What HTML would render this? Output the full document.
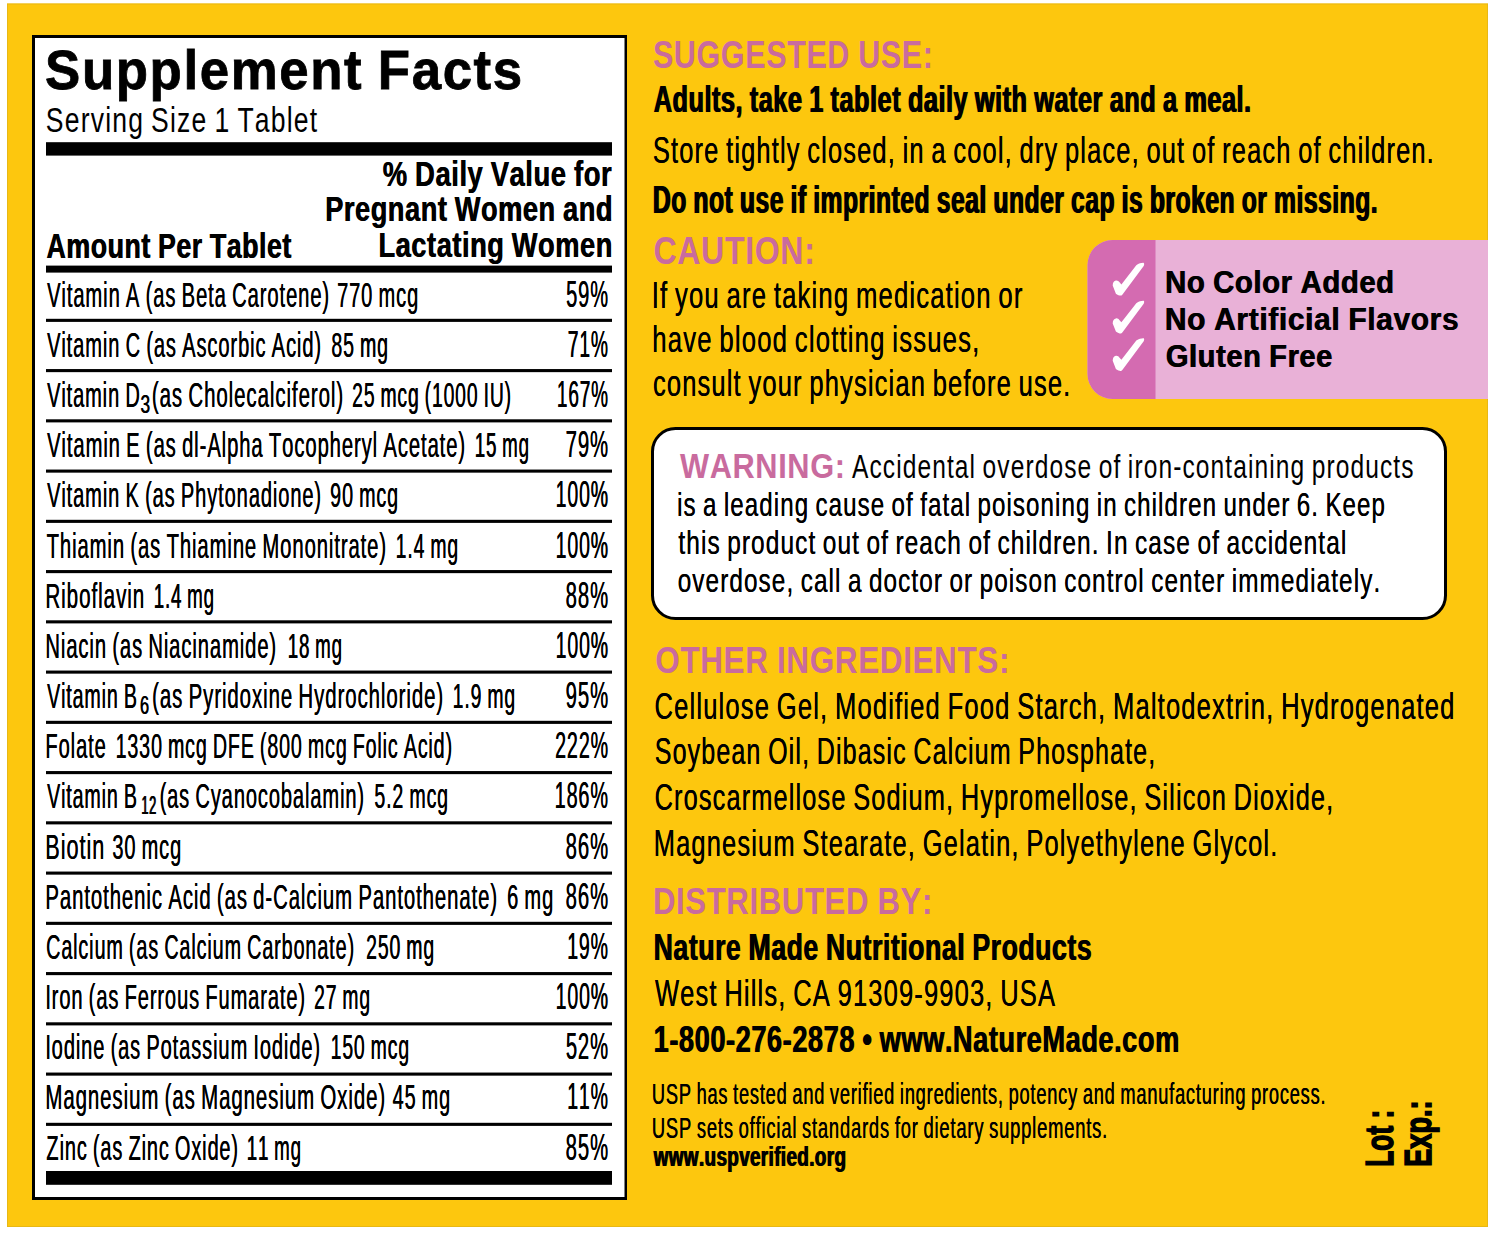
<!DOCTYPE html>
<html><head><meta charset="utf-8"><title>Supplement Facts</title>
<style>
html,body{margin:0;padding:0;background:#fff;}
body{width:1500px;height:1234px;overflow:hidden;}
svg{display:block;}
text{font-family:"Liberation Sans",sans-serif;font-kerning:none;font-variant-ligatures:none;white-space:pre;}
text.R{font-weight:400;}
text.B{font-weight:700;}
</style></head>
<body>
<svg width="1500" height="1234" viewBox="0 0 1500 1234">
<rect x="7" y="3.5" width="1481" height="1223.5" fill="#FDC70E"/>
<rect x="7.5" y="4" width="1480" height="1222.5" fill="none" stroke="#E2B418" stroke-width="1" opacity="0.8"/>
<rect x="32" y="35" width="595" height="1165" fill="#000"/>
<rect x="35" y="38" width="589.5" height="1159" fill="#fff"/>
<text class="B" x="45.08" y="89.40" font-size="56.33" textLength="478.67" lengthAdjust="spacingAndGlyphs" letter-spacing="1.69" word-spacing="-1.69" stroke="#000" stroke-width="0.8">Supplement Facts</text>
<text class="R" x="45.79" y="132.40" font-size="34.80" textLength="272.59" lengthAdjust="spacingAndGlyphs" letter-spacing="1.57" word-spacing="-2.09">Serving Size 1 Tablet</text>
<rect x="46" y="142.2" width="566" height="13.4" fill="#000"/>
<text class="B" x="382.52" y="185.70" font-size="34.46" textLength="229.41" lengthAdjust="spacingAndGlyphs" letter-spacing="0.69" word-spacing="-1.03">% Daily Value for</text>
<text class="B" x="383.05" y="185.70" font-size="34.46" textLength="229.41" lengthAdjust="spacingAndGlyphs" letter-spacing="0.69" word-spacing="-1.03">% Daily Value for</text>
<text class="B" x="324.88" y="221.00" font-size="34.46" textLength="287.89" lengthAdjust="spacingAndGlyphs" letter-spacing="0.69" word-spacing="-1.03">Pregnant Women and</text>
<text class="B" x="325.44" y="221.00" font-size="34.46" textLength="287.89" lengthAdjust="spacingAndGlyphs" letter-spacing="0.69" word-spacing="-1.03">Pregnant Women and</text>
<text class="B" x="378.18" y="256.60" font-size="34.46" textLength="234.50" lengthAdjust="spacingAndGlyphs" letter-spacing="0.69" word-spacing="-1.03">Lactating Women</text>
<text class="B" x="378.73" y="256.60" font-size="34.46" textLength="234.50" lengthAdjust="spacingAndGlyphs" letter-spacing="0.69" word-spacing="-1.03">Lactating Women</text>
<text class="B" x="46.23" y="257.60" font-size="34.74" textLength="245.30" lengthAdjust="spacingAndGlyphs" letter-spacing="0.69" word-spacing="-1.04">Amount Per Tablet</text>
<text class="B" x="46.86" y="257.60" font-size="34.74" textLength="245.30" lengthAdjust="spacingAndGlyphs" letter-spacing="0.69" word-spacing="-1.04">Amount Per Tablet</text>
<rect x="46" y="265.6" width="566" height="7" fill="#000"/>
<text class="R" x="46.91" y="306.60" font-size="35.77" textLength="283.03" lengthAdjust="spacingAndGlyphs" letter-spacing="1.61" word-spacing="-2.15">Vitamin A (as Beta Carotene)</text>
<text class="R" x="47.13" y="306.60" font-size="35.77" textLength="283.03" lengthAdjust="spacingAndGlyphs" letter-spacing="1.61" word-spacing="-2.15">Vitamin A (as Beta Carotene)</text>
<text class="R" x="336.97" y="306.60" font-size="35.77" textLength="81.99" lengthAdjust="spacingAndGlyphs" letter-spacing="1.61" word-spacing="-2.15">770 mcg</text>
<text class="R" x="337.20" y="306.60" font-size="35.77" textLength="81.99" lengthAdjust="spacingAndGlyphs" letter-spacing="1.61" word-spacing="-2.15">770 mcg</text>
<text class="R" x="566.00" y="306.60" font-size="36.43" textLength="42.90" lengthAdjust="spacingAndGlyphs" letter-spacing="1.64">59%</text>
<text class="R" x="566.22" y="306.60" font-size="36.43" textLength="42.90" lengthAdjust="spacingAndGlyphs" letter-spacing="1.64">59%</text>
<rect x="46" y="318.8" width="566" height="3.1" fill="#000"/>
<text class="R" x="46.91" y="356.78" font-size="35.77" textLength="275.01" lengthAdjust="spacingAndGlyphs" letter-spacing="1.61" word-spacing="-2.15">Vitamin C (as Ascorbic Acid)</text>
<text class="R" x="47.14" y="356.78" font-size="35.77" textLength="275.01" lengthAdjust="spacingAndGlyphs" letter-spacing="1.61" word-spacing="-2.15">Vitamin C (as Ascorbic Acid)</text>
<text class="R" x="331.15" y="356.78" font-size="35.77" textLength="57.73" lengthAdjust="spacingAndGlyphs" letter-spacing="1.61" word-spacing="-2.15">85 mg</text>
<text class="R" x="331.41" y="356.78" font-size="35.77" textLength="57.73" lengthAdjust="spacingAndGlyphs" letter-spacing="1.61" word-spacing="-2.15">85 mg</text>
<text class="R" x="567.61" y="356.78" font-size="36.43" textLength="41.15" lengthAdjust="spacingAndGlyphs" letter-spacing="1.64">71%</text>
<text class="R" x="567.90" y="356.78" font-size="36.43" textLength="41.15" lengthAdjust="spacingAndGlyphs" letter-spacing="1.64">71%</text>
<rect x="46" y="369.05" width="566" height="3.1" fill="#000"/>
<text class="R" x="46.91" y="406.96" font-size="35.77" textLength="93.71" lengthAdjust="spacingAndGlyphs" letter-spacing="1.61" word-spacing="-2.15">Vitamin D</text>
<text class="R" x="47.15" y="406.96" font-size="35.77" textLength="93.71" lengthAdjust="spacingAndGlyphs" letter-spacing="1.61" word-spacing="-2.15">Vitamin D</text>
<text class="R" x="140.34" y="412.56" font-size="25.43" textLength="10.39" lengthAdjust="spacingAndGlyphs" letter-spacing="1.14">3</text>
<text class="R" x="140.75" y="412.56" font-size="25.43" textLength="10.39" lengthAdjust="spacingAndGlyphs" letter-spacing="1.14">3</text>
<text class="R" x="151.73" y="406.96" font-size="35.77" textLength="192.26" lengthAdjust="spacingAndGlyphs" letter-spacing="1.61" word-spacing="-2.15">(as Cholecalciferol)</text>
<text class="R" x="151.93" y="406.96" font-size="35.77" textLength="192.26" lengthAdjust="spacingAndGlyphs" letter-spacing="1.61" word-spacing="-2.15">(as Cholecalciferol)</text>
<text class="R" x="352.03" y="406.96" font-size="35.77" textLength="159.74" lengthAdjust="spacingAndGlyphs" letter-spacing="1.61" word-spacing="-2.15">25 mcg (1000 IU)</text>
<text class="R" x="352.32" y="406.96" font-size="35.77" textLength="159.74" lengthAdjust="spacingAndGlyphs" letter-spacing="1.61" word-spacing="-2.15">25 mcg (1000 IU)</text>
<text class="R" x="556.75" y="406.96" font-size="36.43" textLength="51.96" lengthAdjust="spacingAndGlyphs" letter-spacing="1.64">167%</text>
<text class="R" x="557.07" y="406.96" font-size="36.43" textLength="51.96" lengthAdjust="spacingAndGlyphs" letter-spacing="1.64">167%</text>
<rect x="46" y="419.3" width="566" height="3.1" fill="#000"/>
<text class="R" x="46.91" y="457.14" font-size="35.77" textLength="419.04" lengthAdjust="spacingAndGlyphs" letter-spacing="1.61" word-spacing="-2.15">Vitamin E (as dl-Alpha Tocopheryl Acetate)</text>
<text class="R" x="47.13" y="457.14" font-size="35.77" textLength="419.04" lengthAdjust="spacingAndGlyphs" letter-spacing="1.61" word-spacing="-2.15">Vitamin E (as dl-Alpha Tocopheryl Acetate)</text>
<text class="R" x="474.57" y="457.14" font-size="35.77" textLength="55.13" lengthAdjust="spacingAndGlyphs" letter-spacing="1.61" word-spacing="-2.15">15 mg</text>
<text class="R" x="474.91" y="457.14" font-size="35.77" textLength="55.13" lengthAdjust="spacingAndGlyphs" letter-spacing="1.61" word-spacing="-2.15">15 mg</text>
<text class="R" x="565.46" y="457.14" font-size="36.43" textLength="43.48" lengthAdjust="spacingAndGlyphs" letter-spacing="1.64">79%</text>
<text class="R" x="565.66" y="457.14" font-size="36.43" textLength="43.48" lengthAdjust="spacingAndGlyphs" letter-spacing="1.64">79%</text>
<rect x="46" y="469.55" width="566" height="3.1" fill="#000"/>
<text class="R" x="46.91" y="507.32" font-size="35.77" textLength="275.00" lengthAdjust="spacingAndGlyphs" letter-spacing="1.61" word-spacing="-2.15">Vitamin K (as Phytonadione)</text>
<text class="R" x="47.14" y="507.32" font-size="35.77" textLength="275.00" lengthAdjust="spacingAndGlyphs" letter-spacing="1.61" word-spacing="-2.15">Vitamin K (as Phytonadione)</text>
<text class="R" x="330.08" y="507.32" font-size="35.77" textLength="68.83" lengthAdjust="spacingAndGlyphs" letter-spacing="1.61" word-spacing="-2.15">90 mcg</text>
<text class="R" x="330.33" y="507.32" font-size="35.77" textLength="68.83" lengthAdjust="spacingAndGlyphs" letter-spacing="1.61" word-spacing="-2.15">90 mcg</text>
<text class="R" x="555.52" y="507.32" font-size="36.43" textLength="53.27" lengthAdjust="spacingAndGlyphs" letter-spacing="1.64">100%</text>
<text class="R" x="555.80" y="507.32" font-size="36.43" textLength="53.27" lengthAdjust="spacingAndGlyphs" letter-spacing="1.64">100%</text>
<rect x="46" y="519.8" width="566" height="3.1" fill="#000"/>
<text class="R" x="46.55" y="557.50" font-size="35.77" textLength="340.40" lengthAdjust="spacingAndGlyphs" letter-spacing="1.61" word-spacing="-2.15">Thiamin (as Thiamine Mononitrate)</text>
<text class="R" x="46.76" y="557.50" font-size="35.77" textLength="340.40" lengthAdjust="spacingAndGlyphs" letter-spacing="1.61" word-spacing="-2.15">Thiamin (as Thiamine Mononitrate)</text>
<text class="R" x="395.52" y="557.50" font-size="35.77" textLength="63.31" lengthAdjust="spacingAndGlyphs" letter-spacing="1.61" word-spacing="-2.15">1.4 mg</text>
<text class="R" x="395.81" y="557.50" font-size="35.77" textLength="63.31" lengthAdjust="spacingAndGlyphs" letter-spacing="1.61" word-spacing="-2.15">1.4 mg</text>
<text class="R" x="555.52" y="557.50" font-size="36.43" textLength="53.27" lengthAdjust="spacingAndGlyphs" letter-spacing="1.64">100%</text>
<text class="R" x="555.80" y="557.50" font-size="36.43" textLength="53.27" lengthAdjust="spacingAndGlyphs" letter-spacing="1.64">100%</text>
<rect x="46" y="570.05" width="566" height="3.1" fill="#000"/>
<text class="R" x="45.31" y="607.68" font-size="35.77" textLength="99.77" lengthAdjust="spacingAndGlyphs" letter-spacing="1.61">Riboflavin</text>
<text class="R" x="45.49" y="607.68" font-size="35.77" textLength="99.77" lengthAdjust="spacingAndGlyphs" letter-spacing="1.61">Riboflavin</text>
<text class="R" x="153.57" y="607.68" font-size="35.77" textLength="61.13" lengthAdjust="spacingAndGlyphs" letter-spacing="1.61" word-spacing="-2.15">1.4 mg</text>
<text class="R" x="153.92" y="607.68" font-size="35.77" textLength="61.13" lengthAdjust="spacingAndGlyphs" letter-spacing="1.61" word-spacing="-2.15">1.4 mg</text>
<text class="R" x="565.62" y="607.68" font-size="36.43" textLength="43.31" lengthAdjust="spacingAndGlyphs" letter-spacing="1.64">88%</text>
<text class="R" x="565.83" y="607.68" font-size="36.43" textLength="43.31" lengthAdjust="spacingAndGlyphs" letter-spacing="1.64">88%</text>
<rect x="46" y="620.3" width="566" height="3.1" fill="#000"/>
<text class="R" x="45.34" y="657.86" font-size="35.77" textLength="231.59" lengthAdjust="spacingAndGlyphs" letter-spacing="1.61" word-spacing="-2.15">Niacin (as Niacinamide)</text>
<text class="R" x="45.57" y="657.86" font-size="35.77" textLength="231.59" lengthAdjust="spacingAndGlyphs" letter-spacing="1.61" word-spacing="-2.15">Niacin (as Niacinamide)</text>
<text class="R" x="287.57" y="657.86" font-size="35.77" textLength="55.13" lengthAdjust="spacingAndGlyphs" letter-spacing="1.61" word-spacing="-2.15">18 mg</text>
<text class="R" x="287.91" y="657.86" font-size="35.77" textLength="55.13" lengthAdjust="spacingAndGlyphs" letter-spacing="1.61" word-spacing="-2.15">18 mg</text>
<text class="R" x="555.52" y="657.86" font-size="36.43" textLength="53.27" lengthAdjust="spacingAndGlyphs" letter-spacing="1.64">100%</text>
<text class="R" x="555.80" y="657.86" font-size="36.43" textLength="53.27" lengthAdjust="spacingAndGlyphs" letter-spacing="1.64">100%</text>
<rect x="46" y="670.55" width="566" height="3.1" fill="#000"/>
<text class="R" x="46.91" y="708.04" font-size="35.77" textLength="90.74" lengthAdjust="spacingAndGlyphs" letter-spacing="1.61" word-spacing="-2.15">Vitamin B</text>
<text class="R" x="47.18" y="708.04" font-size="35.77" textLength="90.74" lengthAdjust="spacingAndGlyphs" letter-spacing="1.61" word-spacing="-2.15">Vitamin B</text>
<text class="R" x="139.87" y="713.64" font-size="25.43" textLength="9.80" lengthAdjust="spacingAndGlyphs" letter-spacing="1.14">6</text>
<text class="R" x="140.35" y="713.64" font-size="25.43" textLength="9.80" lengthAdjust="spacingAndGlyphs" letter-spacing="1.14">6</text>
<text class="R" x="152.03" y="708.04" font-size="35.77" textLength="291.95" lengthAdjust="spacingAndGlyphs" letter-spacing="1.61" word-spacing="-2.15">(as Pyridoxine Hydrochloride)</text>
<text class="R" x="152.24" y="708.04" font-size="35.77" textLength="291.95" lengthAdjust="spacingAndGlyphs" letter-spacing="1.61" word-spacing="-2.15">(as Pyridoxine Hydrochloride)</text>
<text class="R" x="452.52" y="708.04" font-size="35.77" textLength="63.31" lengthAdjust="spacingAndGlyphs" letter-spacing="1.61" word-spacing="-2.15">1.9 mg</text>
<text class="R" x="452.81" y="708.04" font-size="35.77" textLength="63.31" lengthAdjust="spacingAndGlyphs" letter-spacing="1.61" word-spacing="-2.15">1.9 mg</text>
<text class="R" x="565.55" y="708.04" font-size="36.43" textLength="43.39" lengthAdjust="spacingAndGlyphs" letter-spacing="1.64">95%</text>
<text class="R" x="565.75" y="708.04" font-size="36.43" textLength="43.39" lengthAdjust="spacingAndGlyphs" letter-spacing="1.64">95%</text>
<rect x="46" y="720.8" width="566" height="3.1" fill="#000"/>
<text class="R" x="45.35" y="758.22" font-size="35.77" textLength="61.22" lengthAdjust="spacingAndGlyphs" letter-spacing="1.61">Folate</text>
<text class="R" x="45.58" y="758.22" font-size="35.77" textLength="61.22" lengthAdjust="spacingAndGlyphs" letter-spacing="1.61">Folate</text>
<text class="R" x="115.50" y="758.22" font-size="35.77" textLength="337.32" lengthAdjust="spacingAndGlyphs" letter-spacing="1.61" word-spacing="-2.15">1330 mcg DFE (800 mcg Folic Acid)</text>
<text class="R" x="115.78" y="758.22" font-size="35.77" textLength="337.32" lengthAdjust="spacingAndGlyphs" letter-spacing="1.61" word-spacing="-2.15">1330 mcg DFE (800 mcg Folic Acid)</text>
<text class="R" x="555.01" y="758.22" font-size="36.43" textLength="53.81" lengthAdjust="spacingAndGlyphs" letter-spacing="1.64">222%</text>
<text class="R" x="555.27" y="758.22" font-size="36.43" textLength="53.81" lengthAdjust="spacingAndGlyphs" letter-spacing="1.64">222%</text>
<rect x="46" y="771.05" width="566" height="3.1" fill="#000"/>
<text class="R" x="46.91" y="808.40" font-size="35.77" textLength="90.74" lengthAdjust="spacingAndGlyphs" letter-spacing="1.61" word-spacing="-2.15">Vitamin B</text>
<text class="R" x="47.18" y="808.40" font-size="35.77" textLength="90.74" lengthAdjust="spacingAndGlyphs" letter-spacing="1.61" word-spacing="-2.15">Vitamin B</text>
<text class="R" x="141.02" y="814.00" font-size="25.43" textLength="15.39" lengthAdjust="spacingAndGlyphs" letter-spacing="1.14">12</text>
<text class="R" x="141.83" y="814.00" font-size="25.43" textLength="15.39" lengthAdjust="spacingAndGlyphs" letter-spacing="1.14">12</text>
<text class="R" x="159.46" y="808.40" font-size="35.77" textLength="205.46" lengthAdjust="spacingAndGlyphs" letter-spacing="1.61" word-spacing="-2.15">(as Cyanocobalamin)</text>
<text class="R" x="159.69" y="808.40" font-size="35.77" textLength="205.46" lengthAdjust="spacingAndGlyphs" letter-spacing="1.61" word-spacing="-2.15">(as Cyanocobalamin)</text>
<text class="R" x="374.22" y="808.40" font-size="35.77" textLength="74.66" lengthAdjust="spacingAndGlyphs" letter-spacing="1.61" word-spacing="-2.15">5.2 mcg</text>
<text class="R" x="374.49" y="808.40" font-size="35.77" textLength="74.66" lengthAdjust="spacingAndGlyphs" letter-spacing="1.61" word-spacing="-2.15">5.2 mcg</text>
<text class="R" x="554.49" y="808.40" font-size="36.43" textLength="54.37" lengthAdjust="spacingAndGlyphs" letter-spacing="1.64">186%</text>
<text class="R" x="554.73" y="808.40" font-size="36.43" textLength="54.37" lengthAdjust="spacingAndGlyphs" letter-spacing="1.64">186%</text>
<rect x="46" y="821.3" width="566" height="3.1" fill="#000"/>
<text class="R" x="45.22" y="858.58" font-size="35.77" textLength="60.07" lengthAdjust="spacingAndGlyphs" letter-spacing="1.61">Biotin</text>
<text class="R" x="45.31" y="858.58" font-size="35.77" textLength="60.07" lengthAdjust="spacingAndGlyphs" letter-spacing="1.61">Biotin</text>
<text class="R" x="112.24" y="858.58" font-size="35.77" textLength="69.71" lengthAdjust="spacingAndGlyphs" letter-spacing="1.61" word-spacing="-2.15">30 mcg</text>
<text class="R" x="112.47" y="858.58" font-size="35.77" textLength="69.71" lengthAdjust="spacingAndGlyphs" letter-spacing="1.61" word-spacing="-2.15">30 mcg</text>
<text class="R" x="565.62" y="858.58" font-size="36.43" textLength="43.31" lengthAdjust="spacingAndGlyphs" letter-spacing="1.64">86%</text>
<text class="R" x="565.83" y="858.58" font-size="36.43" textLength="43.31" lengthAdjust="spacingAndGlyphs" letter-spacing="1.64">86%</text>
<rect x="46" y="871.55" width="566" height="3.1" fill="#000"/>
<text class="R" x="45.33" y="908.76" font-size="35.77" textLength="452.64" lengthAdjust="spacingAndGlyphs" letter-spacing="1.61" word-spacing="-2.15">Pantothenic Acid (as d-Calcium Pantothenate)</text>
<text class="R" x="45.54" y="908.76" font-size="35.77" textLength="452.64" lengthAdjust="spacingAndGlyphs" letter-spacing="1.61" word-spacing="-2.15">Pantothenic Acid (as d-Calcium Pantothenate)</text>
<text class="R" x="506.98" y="908.76" font-size="35.77" textLength="46.99" lengthAdjust="spacingAndGlyphs" letter-spacing="1.61" word-spacing="-2.15">6 mg</text>
<text class="R" x="507.21" y="908.76" font-size="35.77" textLength="46.99" lengthAdjust="spacingAndGlyphs" letter-spacing="1.61" word-spacing="-2.15">6 mg</text>
<text class="R" x="565.62" y="908.76" font-size="36.43" textLength="43.31" lengthAdjust="spacingAndGlyphs" letter-spacing="1.64">86%</text>
<text class="R" x="565.83" y="908.76" font-size="36.43" textLength="43.31" lengthAdjust="spacingAndGlyphs" letter-spacing="1.64">86%</text>
<rect x="46" y="921.8" width="566" height="3.1" fill="#000"/>
<text class="R" x="46.00" y="958.94" font-size="35.77" textLength="308.86" lengthAdjust="spacingAndGlyphs" letter-spacing="1.61" word-spacing="-2.15">Calcium (as Calcium Carbonate)</text>
<text class="R" x="46.25" y="958.94" font-size="35.77" textLength="308.86" lengthAdjust="spacingAndGlyphs" letter-spacing="1.61" word-spacing="-2.15">Calcium (as Calcium Carbonate)</text>
<text class="R" x="366.02" y="958.94" font-size="35.77" textLength="68.82" lengthAdjust="spacingAndGlyphs" letter-spacing="1.61" word-spacing="-2.15">250 mg</text>
<text class="R" x="366.31" y="958.94" font-size="35.77" textLength="68.82" lengthAdjust="spacingAndGlyphs" letter-spacing="1.61" word-spacing="-2.15">250 mg</text>
<text class="R" x="567.11" y="958.94" font-size="36.43" textLength="41.69" lengthAdjust="spacingAndGlyphs" letter-spacing="1.64">19%</text>
<text class="R" x="567.38" y="958.94" font-size="36.43" textLength="41.69" lengthAdjust="spacingAndGlyphs" letter-spacing="1.64">19%</text>
<rect x="46" y="972.05" width="566" height="3.1" fill="#000"/>
<text class="R" x="45.15" y="1009.12" font-size="35.77" textLength="260.77" lengthAdjust="spacingAndGlyphs" letter-spacing="1.61" word-spacing="-2.15">Iron (as Ferrous Fumarate)</text>
<text class="R" x="45.38" y="1009.12" font-size="35.77" textLength="260.77" lengthAdjust="spacingAndGlyphs" letter-spacing="1.61" word-spacing="-2.15">Iron (as Ferrous Fumarate)</text>
<text class="R" x="314.03" y="1009.12" font-size="35.77" textLength="56.79" lengthAdjust="spacingAndGlyphs" letter-spacing="1.61" word-spacing="-2.15">27 mg</text>
<text class="R" x="314.32" y="1009.12" font-size="35.77" textLength="56.79" lengthAdjust="spacingAndGlyphs" letter-spacing="1.61" word-spacing="-2.15">27 mg</text>
<text class="R" x="555.52" y="1009.12" font-size="36.43" textLength="53.27" lengthAdjust="spacingAndGlyphs" letter-spacing="1.64">100%</text>
<text class="R" x="555.80" y="1009.12" font-size="36.43" textLength="53.27" lengthAdjust="spacingAndGlyphs" letter-spacing="1.64">100%</text>
<rect x="46" y="1022.3" width="566" height="3.1" fill="#000"/>
<text class="R" x="45.15" y="1059.30" font-size="35.77" textLength="275.76" lengthAdjust="spacingAndGlyphs" letter-spacing="1.61" word-spacing="-2.15">Iodine (as Potassium Iodide)</text>
<text class="R" x="45.38" y="1059.30" font-size="35.77" textLength="275.76" lengthAdjust="spacingAndGlyphs" letter-spacing="1.61" word-spacing="-2.15">Iodine (as Potassium Iodide)</text>
<text class="R" x="330.52" y="1059.30" font-size="35.77" textLength="79.31" lengthAdjust="spacingAndGlyphs" letter-spacing="1.61" word-spacing="-2.15">150 mcg</text>
<text class="R" x="330.81" y="1059.30" font-size="35.77" textLength="79.31" lengthAdjust="spacingAndGlyphs" letter-spacing="1.61" word-spacing="-2.15">150 mcg</text>
<text class="R" x="565.69" y="1059.30" font-size="36.43" textLength="43.23" lengthAdjust="spacingAndGlyphs" letter-spacing="1.64">52%</text>
<text class="R" x="565.90" y="1059.30" font-size="36.43" textLength="43.23" lengthAdjust="spacingAndGlyphs" letter-spacing="1.64">52%</text>
<rect x="46" y="1072.55" width="566" height="3.1" fill="#000"/>
<text class="R" x="45.32" y="1109.48" font-size="35.77" textLength="340.66" lengthAdjust="spacingAndGlyphs" letter-spacing="1.61" word-spacing="-2.15">Magnesium (as Magnesium Oxide)</text>
<text class="R" x="45.53" y="1109.48" font-size="35.77" textLength="340.66" lengthAdjust="spacingAndGlyphs" letter-spacing="1.61" word-spacing="-2.15">Magnesium (as Magnesium Oxide)</text>
<text class="R" x="392.54" y="1109.48" font-size="35.77" textLength="58.38" lengthAdjust="spacingAndGlyphs" letter-spacing="1.61" word-spacing="-2.15">45 mg</text>
<text class="R" x="392.79" y="1109.48" font-size="35.77" textLength="58.38" lengthAdjust="spacingAndGlyphs" letter-spacing="1.61" word-spacing="-2.15">45 mg</text>
<text class="R" x="567.11" y="1109.48" font-size="36.43" textLength="41.69" lengthAdjust="spacingAndGlyphs" letter-spacing="1.64">11%</text>
<text class="R" x="567.38" y="1109.48" font-size="36.43" textLength="41.69" lengthAdjust="spacingAndGlyphs" letter-spacing="1.64">11%</text>
<rect x="46" y="1122.8" width="566" height="3.1" fill="#000"/>
<text class="R" x="46.37" y="1159.66" font-size="35.77" textLength="192.52" lengthAdjust="spacingAndGlyphs" letter-spacing="1.61" word-spacing="-2.15">Zinc (as Zinc Oxide)</text>
<text class="R" x="46.61" y="1159.66" font-size="35.77" textLength="192.52" lengthAdjust="spacingAndGlyphs" letter-spacing="1.61" word-spacing="-2.15">Zinc (as Zinc Oxide)</text>
<text class="R" x="246.57" y="1159.66" font-size="35.77" textLength="55.13" lengthAdjust="spacingAndGlyphs" letter-spacing="1.61" word-spacing="-2.15">11 mg</text>
<text class="R" x="246.91" y="1159.66" font-size="35.77" textLength="55.13" lengthAdjust="spacingAndGlyphs" letter-spacing="1.61" word-spacing="-2.15">11 mg</text>
<text class="R" x="565.62" y="1159.66" font-size="36.43" textLength="43.31" lengthAdjust="spacingAndGlyphs" letter-spacing="1.64">85%</text>
<text class="R" x="565.83" y="1159.66" font-size="36.43" textLength="43.31" lengthAdjust="spacingAndGlyphs" letter-spacing="1.64">85%</text>
<rect x="46" y="1171" width="566" height="13.8" fill="#000"/>
<text class="B" x="652.92" y="68.40" font-size="38.95" textLength="280.62" lengthAdjust="spacingAndGlyphs" fill="#C96B9E" letter-spacing="0.78" word-spacing="-1.17">SUGGESTED USE:</text>
<text class="B" x="653.17" y="112.40" font-size="36.90" textLength="597.95" lengthAdjust="spacingAndGlyphs" letter-spacing="0.74" word-spacing="-1.11">Adults, take 1 tablet daily with water and a meal.</text>
<text class="B" x="654.20" y="112.40" font-size="36.90" textLength="597.95" lengthAdjust="spacingAndGlyphs" letter-spacing="0.74" word-spacing="-1.11">Adults, take 1 tablet daily with water and a meal.</text>
<text class="R" x="652.84" y="162.80" font-size="36.67" textLength="782.01" lengthAdjust="spacingAndGlyphs" letter-spacing="1.65" word-spacing="-2.20">Store tightly closed, in a cool, dry place, out of reach of children.</text>
<text class="R" x="652.96" y="162.80" font-size="36.67" textLength="782.01" lengthAdjust="spacingAndGlyphs" letter-spacing="1.65" word-spacing="-2.20">Store tightly closed, in a cool, dry place, out of reach of children.</text>
<text class="B" x="652.35" y="213.40" font-size="37.91" textLength="725.23" lengthAdjust="spacingAndGlyphs" letter-spacing="0.76" word-spacing="-1.14">Do not use if imprinted seal under cap is broken or missing.</text>
<text class="B" x="653.46" y="213.40" font-size="37.91" textLength="725.23" lengthAdjust="spacingAndGlyphs" letter-spacing="0.76" word-spacing="-1.14">Do not use if imprinted seal under cap is broken or missing.</text>
<text class="B" x="653.38" y="264.00" font-size="38.37" textLength="162.15" lengthAdjust="spacingAndGlyphs" fill="#C96B9E" letter-spacing="0.77">CAUTION:</text>
<text class="R" x="651.63" y="307.80" font-size="37.19" textLength="371.86" lengthAdjust="spacingAndGlyphs" letter-spacing="1.67" word-spacing="-2.23">If you are taking medication or</text>
<text class="R" x="651.72" y="307.80" font-size="37.19" textLength="371.86" lengthAdjust="spacingAndGlyphs" letter-spacing="1.67" word-spacing="-2.23">If you are taking medication or</text>
<text class="R" x="652.22" y="352.20" font-size="37.19" textLength="328.16" lengthAdjust="spacingAndGlyphs" letter-spacing="1.67" word-spacing="-2.23">have blood clotting issues,</text>
<text class="R" x="652.30" y="352.20" font-size="37.19" textLength="328.16" lengthAdjust="spacingAndGlyphs" letter-spacing="1.67" word-spacing="-2.23">have blood clotting issues,</text>
<text class="R" x="652.92" y="396.00" font-size="37.47" textLength="418.45" lengthAdjust="spacingAndGlyphs" letter-spacing="1.69" word-spacing="-2.25">consult your physician before use.</text>
<text class="R" x="653.02" y="396.00" font-size="37.47" textLength="418.45" lengthAdjust="spacingAndGlyphs" letter-spacing="1.69" word-spacing="-2.25">consult your physician before use.</text>
<path d="M1112.5,240 H1488 V399 H1112.5 A25,25 0 0 1 1087.5,374 V265 A25,25 0 0 1 1112.5,240 Z" fill="#E9B1D7"/>
<path d="M1112.5,240 H1155.5 V399 H1112.5 A25,25 0 0 1 1087.5,374 V265 A25,25 0 0 1 1112.5,240 Z" fill="#D46BB1"/>
<path transform="translate(1112.5,262.5)" d="M0.2,23 C0.2,20 1.5,18.2 3.4,18 C5,17.8 6.2,18.6 6.8,19.6 L8.9,21.9 L23.8,2.8 C26.5,0.9 29.5,0.2 31.2,0.4 C31.9,0.6 31.8,2.2 31.2,3.4 L10,31.9 C9.3,33 8,33.3 7.1,33 C5.5,32.7 4.3,32 3.4,31.2 Z" fill="#fff"/>
<path transform="translate(1112.5,300.4)" d="M0.2,23 C0.2,20 1.5,18.2 3.4,18 C5,17.8 6.2,18.6 6.8,19.6 L8.9,21.9 L23.8,2.8 C26.5,0.9 29.5,0.2 31.2,0.4 C31.9,0.6 31.8,2.2 31.2,3.4 L10,31.9 C9.3,33 8,33.3 7.1,33 C5.5,32.7 4.3,32 3.4,31.2 Z" fill="#fff"/>
<path transform="translate(1112.5,337.8)" d="M0.2,23 C0.2,20 1.5,18.2 3.4,18 C5,17.8 6.2,18.6 6.8,19.6 L8.9,21.9 L23.8,2.8 C26.5,0.9 29.5,0.2 31.2,0.4 C31.9,0.6 31.8,2.2 31.2,3.4 L10,31.9 C9.3,33 8,33.3 7.1,33 C5.5,32.7 4.3,32 3.4,31.2 Z" fill="#fff"/>
<text class="B" x="1164.64" y="292.70" font-size="31.36" textLength="229.72" lengthAdjust="spacingAndGlyphs" letter-spacing="0.63" word-spacing="-0.94">No Color Added</text>
<text class="B" x="1165.40" y="292.70" font-size="31.36" textLength="229.72" lengthAdjust="spacingAndGlyphs" letter-spacing="0.63" word-spacing="-0.94">No Color Added</text>
<text class="B" x="1164.59" y="330.20" font-size="31.36" textLength="294.36" lengthAdjust="spacingAndGlyphs" letter-spacing="0.63" word-spacing="-0.94">No Artificial Flavors</text>
<text class="B" x="1165.27" y="330.20" font-size="31.36" textLength="294.36" lengthAdjust="spacingAndGlyphs" letter-spacing="0.63" word-spacing="-0.94">No Artificial Flavors</text>
<text class="B" x="1165.41" y="367.20" font-size="31.36" textLength="167.17" lengthAdjust="spacingAndGlyphs" letter-spacing="0.63" word-spacing="-0.94">Gluten Free</text>
<text class="B" x="1166.20" y="367.20" font-size="31.36" textLength="167.17" lengthAdjust="spacingAndGlyphs" letter-spacing="0.63" word-spacing="-0.94">Gluten Free</text>
<rect x="652.5" y="428.5" width="793" height="190" rx="23" ry="23" fill="#fff" stroke="#000" stroke-width="3"/>
<text class="B" x="679.97" y="478.20" font-size="34.30" textLength="165.61" lengthAdjust="spacingAndGlyphs" fill="#C96B9E" letter-spacing="0.69">WARNING:</text>
<text class="R" x="851.95" y="478.20" font-size="33.77" textLength="562.64" lengthAdjust="spacingAndGlyphs" letter-spacing="1.52" word-spacing="-2.03">Accidental overdose of iron-containing products</text>
<text class="R" x="677.09" y="516.20" font-size="33.77" textLength="708.93" lengthAdjust="spacingAndGlyphs" letter-spacing="1.52" word-spacing="-2.03">is a leading cause of fatal poisoning in children under 6. Keep</text>
<text class="R" x="677.17" y="516.20" font-size="33.77" textLength="708.93" lengthAdjust="spacingAndGlyphs" letter-spacing="1.52" word-spacing="-2.03">is a leading cause of fatal poisoning in children under 6. Keep</text>
<text class="R" x="678.33" y="554.20" font-size="33.77" textLength="669.05" lengthAdjust="spacingAndGlyphs" letter-spacing="1.52" word-spacing="-2.03">this product out of reach of children. In case of accidental</text>
<text class="R" x="678.38" y="554.20" font-size="33.77" textLength="669.05" lengthAdjust="spacingAndGlyphs" letter-spacing="1.52" word-spacing="-2.03">this product out of reach of children. In case of accidental</text>
<text class="R" x="677.68" y="592.20" font-size="33.77" textLength="703.57" lengthAdjust="spacingAndGlyphs" letter-spacing="1.52" word-spacing="-2.03">overdose, call a doctor or poison control center immediately.</text>
<text class="R" x="677.74" y="592.20" font-size="33.77" textLength="703.57" lengthAdjust="spacingAndGlyphs" letter-spacing="1.52" word-spacing="-2.03">overdose, call a doctor or poison control center immediately.</text>
<text class="B" x="655.31" y="672.80" font-size="37.21" textLength="354.75" lengthAdjust="spacingAndGlyphs" fill="#C96B9E" letter-spacing="0.74" word-spacing="-1.12">OTHER INGREDIENTS:</text>
<text class="R" x="654.50" y="718.80" font-size="37.14" textLength="801.00" lengthAdjust="spacingAndGlyphs" letter-spacing="1.67" word-spacing="-2.23">Cellulose Gel, Modified Food Starch, Maltodextrin, Hydrogenated</text>
<text class="R" x="654.60" y="718.80" font-size="37.14" textLength="801.00" lengthAdjust="spacingAndGlyphs" letter-spacing="1.67" word-spacing="-2.23">Cellulose Gel, Modified Food Starch, Maltodextrin, Hydrogenated</text>
<text class="R" x="654.66" y="764.40" font-size="37.14" textLength="501.57" lengthAdjust="spacingAndGlyphs" letter-spacing="1.67" word-spacing="-2.23">Soybean Oil, Dibasic Calcium Phosphate,</text>
<text class="R" x="654.81" y="764.40" font-size="37.14" textLength="501.57" lengthAdjust="spacingAndGlyphs" letter-spacing="1.67" word-spacing="-2.23">Soybean Oil, Dibasic Calcium Phosphate,</text>
<text class="R" x="654.51" y="810.40" font-size="37.14" textLength="679.79" lengthAdjust="spacingAndGlyphs" letter-spacing="1.67" word-spacing="-2.23">Croscarmellose Sodium, Hypromellose, Silicon Dioxide,</text>
<text class="R" x="654.63" y="810.40" font-size="37.14" textLength="679.79" lengthAdjust="spacingAndGlyphs" letter-spacing="1.67" word-spacing="-2.23">Croscarmellose Sodium, Hypromellose, Silicon Dioxide,</text>
<text class="R" x="653.71" y="856.40" font-size="37.14" textLength="624.65" lengthAdjust="spacingAndGlyphs" letter-spacing="1.67" word-spacing="-2.23">Magnesium Stearate, Gelatin, Polyethylene Glycol.</text>
<text class="R" x="653.82" y="856.40" font-size="37.14" textLength="624.65" lengthAdjust="spacingAndGlyphs" letter-spacing="1.67" word-spacing="-2.23">Magnesium Stearate, Gelatin, Polyethylene Glycol.</text>
<text class="B" x="652.92" y="914.00" font-size="37.21" textLength="280.00" lengthAdjust="spacingAndGlyphs" fill="#C96B9E" letter-spacing="0.74" word-spacing="-1.12">DISTRIBUTED BY:</text>
<text class="B" x="653.22" y="960.00" font-size="36.90" textLength="438.57" lengthAdjust="spacingAndGlyphs" letter-spacing="0.74" word-spacing="-1.11">Nature Made Nutritional Products</text>
<text class="B" x="654.05" y="960.00" font-size="36.90" textLength="438.57" lengthAdjust="spacingAndGlyphs" letter-spacing="0.74" word-spacing="-1.11">Nature Made Nutritional Products</text>
<text class="R" x="654.89" y="1006.40" font-size="37.19" textLength="401.21" lengthAdjust="spacingAndGlyphs" letter-spacing="1.67" word-spacing="-2.23">West Hills, CA 91309-9903, USA</text>
<text class="R" x="654.99" y="1006.40" font-size="37.19" textLength="401.21" lengthAdjust="spacingAndGlyphs" letter-spacing="1.67" word-spacing="-2.23">West Hills, CA 91309-9903, USA</text>
<text class="B" x="653.29" y="1051.60" font-size="37.31" textLength="526.18" lengthAdjust="spacingAndGlyphs" letter-spacing="0.75" word-spacing="-1.12">1-800-276-2878 • www.NatureMade.com</text>
<text class="B" x="654.05" y="1051.60" font-size="37.31" textLength="526.18" lengthAdjust="spacingAndGlyphs" letter-spacing="0.75" word-spacing="-1.12">1-800-276-2878 • www.NatureMade.com</text>
<text class="R" x="651.80" y="1103.80" font-size="29.41" textLength="674.48" lengthAdjust="spacingAndGlyphs" letter-spacing="1.32" word-spacing="-1.76">USP has tested and verified ingredients, potency and manufacturing process.</text>
<text class="R" x="652.00" y="1103.80" font-size="29.41" textLength="674.48" lengthAdjust="spacingAndGlyphs" letter-spacing="1.32" word-spacing="-1.76">USP has tested and verified ingredients, potency and manufacturing process.</text>
<text class="R" x="651.79" y="1137.80" font-size="29.41" textLength="456.23" lengthAdjust="spacingAndGlyphs" letter-spacing="1.32" word-spacing="-1.76">USP sets official standards for dietary supplements.</text>
<text class="R" x="651.97" y="1137.80" font-size="29.41" textLength="456.23" lengthAdjust="spacingAndGlyphs" letter-spacing="1.32" word-spacing="-1.76">USP sets official standards for dietary supplements.</text>
<text class="B" x="653.26" y="1165.80" font-size="27.00" textLength="192.58" lengthAdjust="spacingAndGlyphs" letter-spacing="0.54">www.uspverified.org</text>
<text class="B" x="654.26" y="1165.80" font-size="27.00" textLength="192.58" lengthAdjust="spacingAndGlyphs" letter-spacing="0.54">www.uspverified.org</text>
<text class="B" transform="translate(1392.5,1165) rotate(-90)" x="-1.76" y="0" font-size="38.52" textLength="56.99" lengthAdjust="spacingAndGlyphs" stroke="#000" stroke-width="1.6">Lot :</text>
<text class="B" transform="translate(1430.5,1165) rotate(-90)" x="-1.82" y="0" font-size="37.79" textLength="66.43" lengthAdjust="spacingAndGlyphs" stroke="#000" stroke-width="1.6">Exp.:</text>
</svg>
</body></html>
